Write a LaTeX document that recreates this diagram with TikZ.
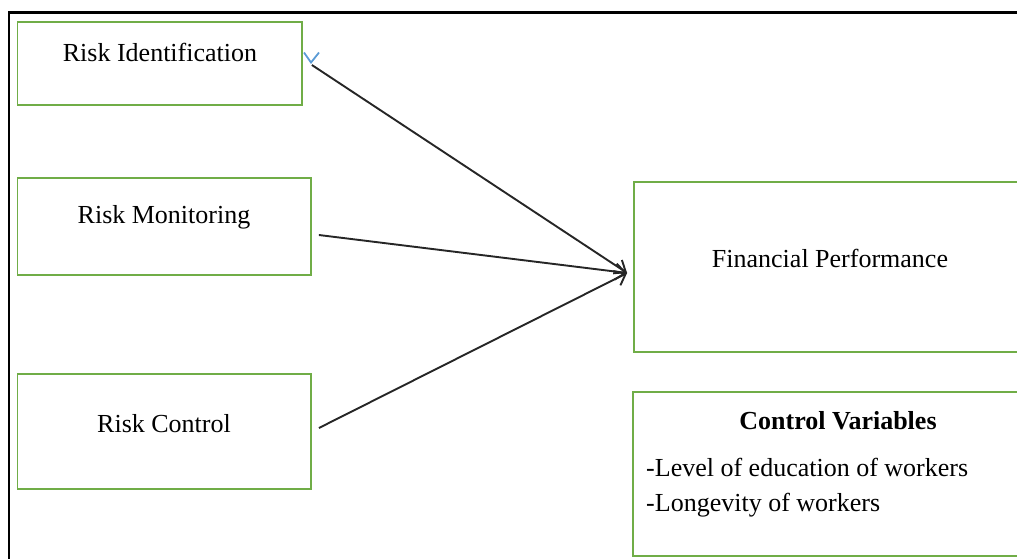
\documentclass[tikz,border=0pt]{standalone}
\usepackage{fontspec}
\setmainfont{Liberation Serif}
\usetikzlibrary{fit,arrows.meta}
\definecolor{boxgreen}{RGB}{112,173,71}
\definecolor{markblue}{RGB}{91,155,213}
\begin{document}
\begin{tikzpicture}[x=1pt,y=-1pt,
  box/.style={draw=boxgreen,line width=1.8pt,inner sep=0pt,rectangle},
  lbl/.style={font=\fontsize{26}{30}\selectfont,inner sep=0pt,anchor=base},
  conn/.style={draw=black!85,line width=1.9pt,-{Straight Barb[length=10pt,width=16pt,line width=1.9pt]}}]
\useasboundingbox (0,0) rectangle (1017,558);
% outer frame
\draw[line width=2.4pt] (9,565) -- (9,12.5) -- (1025,12.5);
% boxes
\node[box,fit={(17.5,22) (302,105)}] (ri) {};
\node[box,fit={(17.5,178) (311,275)}] (rm) {};
\node[box,fit={(17.5,374) (311,489)}] (rc) {};
\node[box,fit={(634,182) (1030,352)}] (fp) {};
\node[box,fit={(633,392) (1030,556)}] (cv) {};
% texts
\node[lbl] (riT) at (160,61) {Risk Identification};
\node[lbl] (rmT) at (164,223) {Risk Monitoring};
\node[lbl] (rcT) at (164,432) {Risk Control};
\node[lbl] (fpT) at (830,267) {Financial Performance};
\node[lbl,font=\fontsize{26}{30}\selectfont\bfseries] (cvT) at (838,429) {Control Variables};
\node[lbl,anchor=base west] (cv1) at (646,476) {-Level of education of workers};
\node[lbl,anchor=base west] (cv2) at (646,511) {-Longevity of workers};
% blue mark
\draw[markblue,line width=1.8pt] (304,52.5) -- (311,62.5) -- (319,52.5);
% connectors
\coordinate (tip) at ([xshift=-6pt,yshift=-6pt]fp.west);
\coordinate (s1) at ([xshift=9pt,yshift=-1.5pt]ri.east);
\coordinate (s2) at ([xshift=7pt,yshift=-8.5pt]rm.east);
\coordinate (s3) at ([xshift=7pt,yshift=3.5pt]rc.east);
\draw[conn] (s1) -- (tip);
\draw[conn] (s2) -- (tip);
\draw[conn] (s3) -- (tip);
\end{tikzpicture}
\end{document}
